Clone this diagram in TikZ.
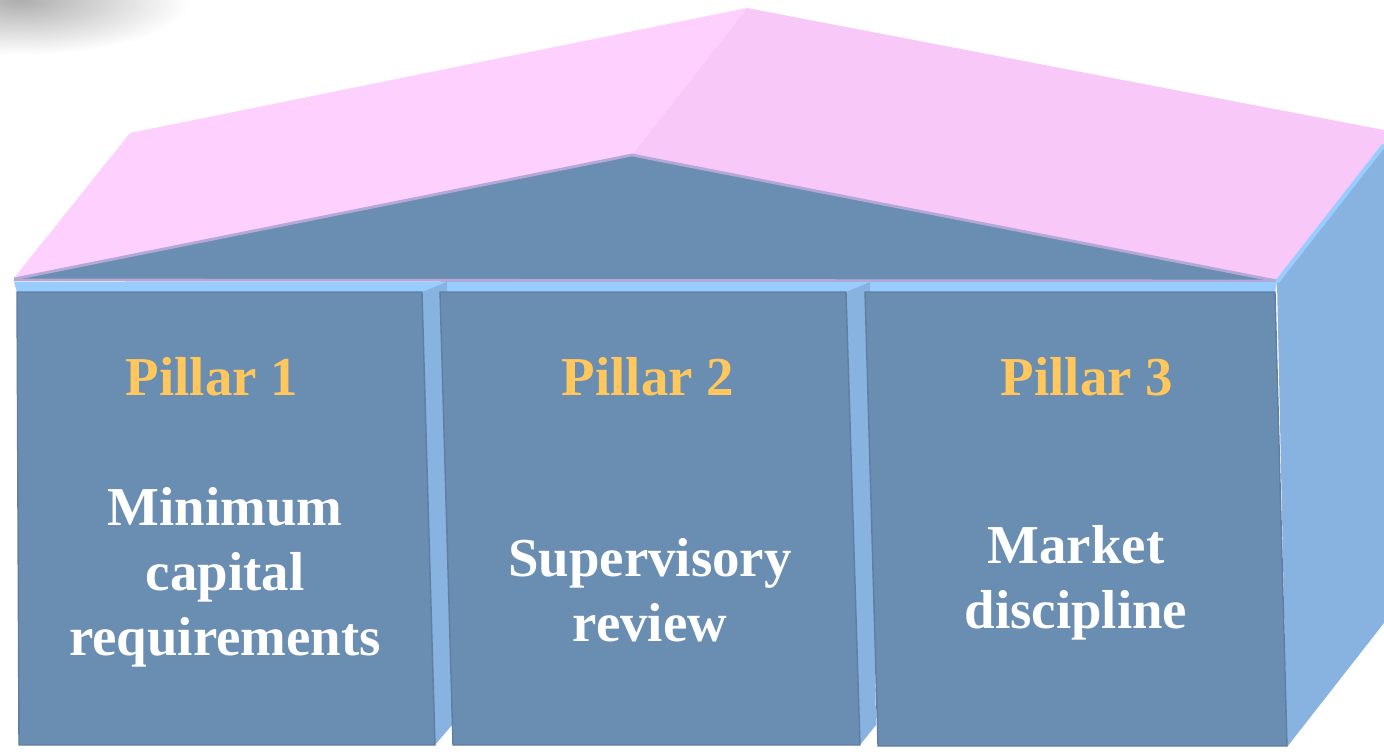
\documentclass[tikz,border=0pt]{standalone}
\usepackage{fontspec}
\setmainfont{Liberation Serif}
\usetikzlibrary{positioning}

\definecolor{slateface}{HTML}{6A8DB2}
\definecolor{sideface}{HTML}{88B3E0}
\definecolor{topstrip}{HTML}{99CCFF}
\definecolor{roofleft}{HTML}{FDD0FD}
\definecolor{roofright}{HTML}{F8C8F8}
\definecolor{rooflip}{HTML}{B4A8D8}
\definecolor{pillargold}{HTML}{FFC75C}

\begin{document}
\begin{tikzpicture}[x=0.01cm,y=-0.01cm,
  front/.style={fill=slateface,draw=slateface!90!black,line width=0.4pt},
  side/.style={fill=sideface},
  title/.style={text=pillargold,font=\bfseries\fontsize{15.6}{18.5}\selectfont},
  body/.style={text=white,align=center,font=\bfseries\fontsize{15.6}{18.5}\selectfont}]
\useasboundingbox (0,0) rectangle (1384,751);
\begin{scope}
\clip (0,0) rectangle (1384,751);
\shade[inner color=black!32, outer color=white] (20,0) ellipse (170 and 55);
\end{scope}
\fill[roofleft] (14,278)--(130,133)--(747,8)--(632,155)--cycle;
\fill[roofright] (747,8)--(1384,130)--(1384,147)--(1277,281)--(632,155)--cycle;
\fill[slateface] (14,279)--(632,155)--(1277,282)--cycle;
\draw[rooflip,line width=0.8pt] (14,279)--(632,155)--(1277,281);
\draw[rooflip,line width=0.8pt] (14,280)--(1277,281);
\fill[side] (1277,282)--(1384,147)--(1384,623)--(1287,747)--cycle;
\draw[topstrip,line width=1.2pt] (1277,282)--(1384,145);
\fill[topstrip] (14,282)--(1277,282)--(1275,292)--(17,292)--cycle;
\fill[side] (422,292)--(447,282)--(452,725)--(435,745)--cycle;
\fill[side] (846,292)--(870,282)--(876,725)--(860,745)--cycle;
\filldraw[front] (17,292)--(422,292)--(435,745)--(19,745)--cycle;
\filldraw[front] (440,292)--(846,292)--(860,745)--(453,745)--cycle;
\filldraw[front] (865,292)--(1275,292)--(1287,746)--(878,746)--cycle;
\node[title] (pillarone) at (212,377) {Pillar 1};
\node[title] (pillartwo) at (648,377) {Pillar 2};
\node[title] (pillarthree) at (1087,377) {Pillar 3};
\node[body] (capital) at (225,577) {Minimum\\capital\\requirements};
\node[body] (review) at (650,590) {Supervisory\\review};
\node[body] (discipline) at (1076,583) {Market\\discipline};
\end{tikzpicture}
\end{document}
